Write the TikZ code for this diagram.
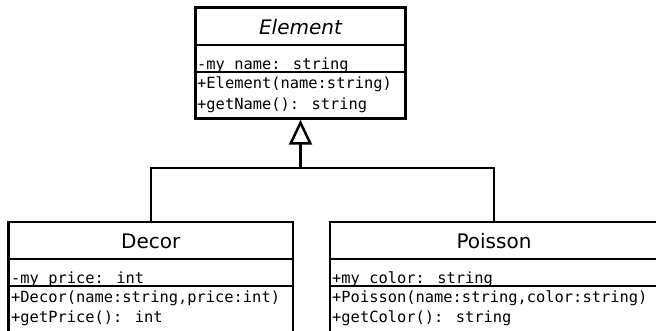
\documentclass[tikz,border=0pt]{standalone}
\usepackage{fontspec}
\usetikzlibrary{arrows.meta}
\newfontfamily\titlefont{DejaVu Sans}
\newfontfamily\membfont{DejaVu Sans Mono}
\begin{document}
\begin{tikzpicture}[x=1pt,y=-1pt,
  classbox/.style={draw, line width=2.5pt, inner sep=0pt, fill=white},
  sepline/.style={line width=2.5pt},
  titletext/.style={anchor=base, inner sep=0pt, font=\titlefont\fontsize{20}{24}\selectfont},
  membtext/.style={anchor=base west, inner sep=0pt, font=\membfont\fontsize{15.4}{21}\selectfont},
  conn/.style={line width=2.5pt}
]
\useasboundingbox (0,0) rectangle (656,331);
\fill[white] (0,0) rectangle (656,331);
% Element
\node[classbox, minimum width=210pt, minimum height=111pt] (element) at (300.5,63) {};
\node[titletext] (etitle) at (300.5,35) {\itshape Element};
\node[membtext] (ea1) at (197,69.5) {-my\_name: string};
\node[membtext] (em1) at (197,89) {+Element(name:string)};
\node[membtext] (em2) at (197,110) {+getName(): string};
\draw[sepline] (195.5,45) -- (405.5,45);
\draw[sepline] (195.5,72) -- (405.5,72);
% Decor
\node[classbox, minimum width=284.5pt, minimum height=140pt] (decor) at (150.75,292) {};
\node[titletext] (dtitle) at (150.75,248) {Decor};
\node[membtext] (da1) at (11,283.5) {-my\_price: int};
\node[membtext] (dm1) at (11,302) {+Decor(name:string,price:int)};
\node[membtext] (dm2) at (11,322) {+getPrice(): int};
\draw[sepline] (8.5,259) -- (293,259);
\draw[sepline] (8.5,286) -- (293,286);
% Poisson
\node[classbox, minimum width=328pt, minimum height=140pt] (poisson) at (494,292) {};
\node[titletext] (ptitle) at (494,248) {Poisson};
\node[membtext] (pa1) at (332,283.5) {+my\_color: string};
\node[membtext] (pm1) at (332,302) {+Poisson(name:string,color:string)};
\node[membtext] (pm2) at (332,322) {+getColor(): string};
\draw[sepline] (330,259) -- (658,259);
\draw[sepline] (330,286) -- (658,286);
% Inheritance connectors
\coordinate (junc) at (element.south |- 0,168);
\draw[conn] (decor.north) |- (junc) -| (poisson.north);
\draw[conn, -{Triangle[open, length=25pt, width=23pt, line width=2.5pt]}] (junc) -- (element.south);
\end{tikzpicture}
\end{document}
